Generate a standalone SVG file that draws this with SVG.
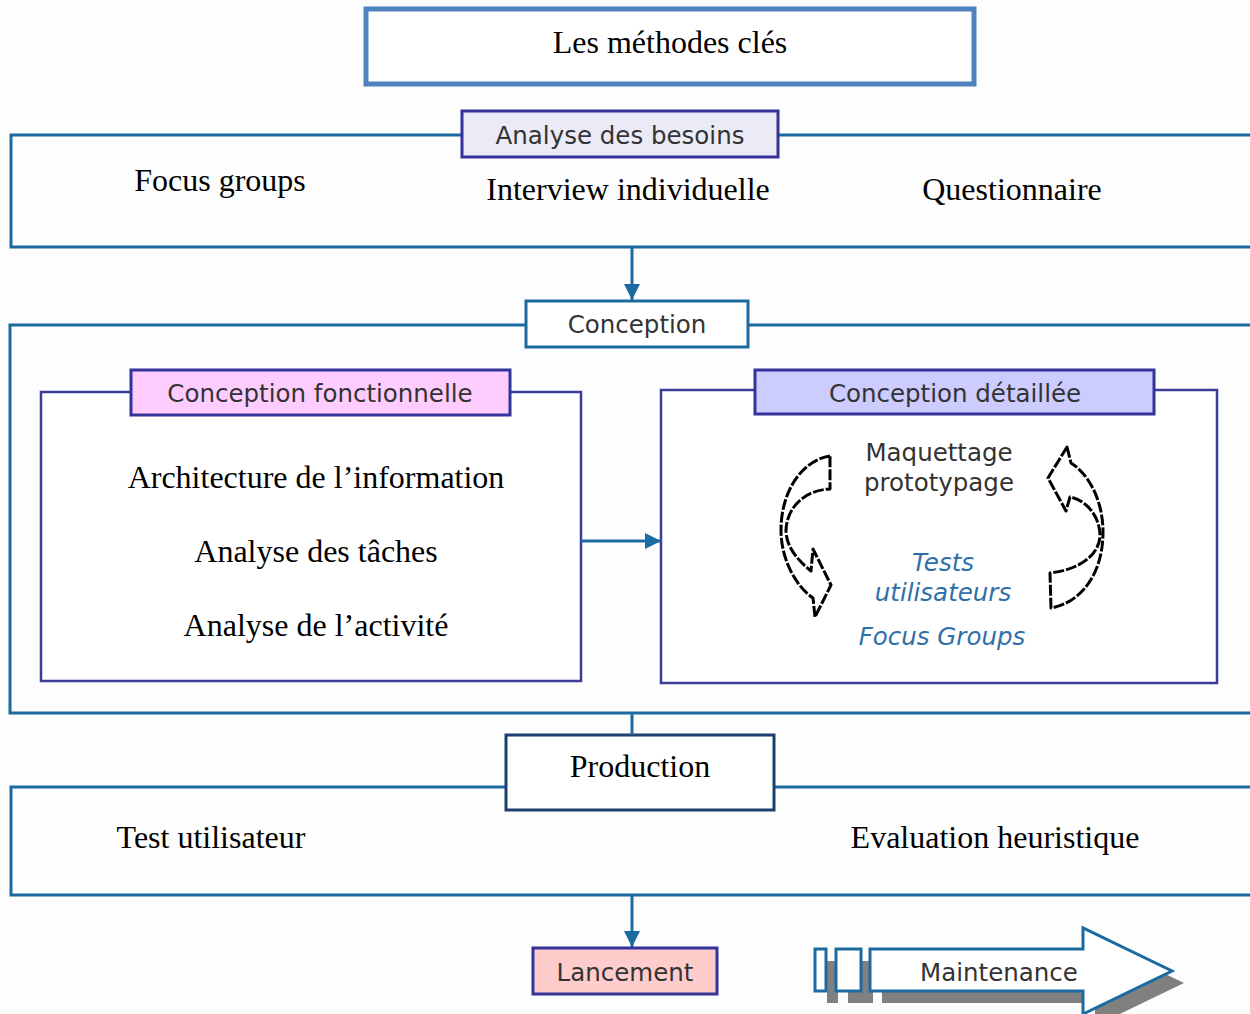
<svg xmlns="http://www.w3.org/2000/svg" width="1250" height="1014" viewBox="0 0 1250 1014">
  <defs>
    <style>
      .frame { fill: none; stroke: #1b6aa0; stroke-width: 3; }
      .inner { fill: #ffffff; stroke: #3b3b9c; stroke-width: 2.5; }
      .tag { stroke: #333399; stroke-width: 3; }
      .serif { font-family: "Liberation Serif", "Times New Roman", serif; font-size: 32px; fill: #000; text-anchor: middle; }
      .sans { font-family: "DejaVu Sans", Verdana, sans-serif; font-size: 24.5px; fill: #333; text-anchor: middle; }
      .blue { font-family: "DejaVu Sans", Verdana, sans-serif; font-size: 24.5px; font-style: italic; fill: #2f6fa8; text-anchor: middle; }
      .link { stroke: #1b6aa0; stroke-width: 3; fill: none; }
      .cycle { fill: #ffffff; stroke: #000; stroke-width: 3; stroke-dasharray: 11 2; stroke-linejoin: round; }
    </style>
    <marker id="head" viewBox="0 0 10 10" refX="10" refY="5" markerWidth="5.5" markerHeight="5.5" markerUnits="strokeWidth" orient="auto">
      <path d="M0,0 L10,5 L0,10 Z" fill="#1b6aa0"/>
    </marker>
  </defs>

  <rect width="1250" height="1014" fill="#fdfdfd"/>

  <!-- title -->
  <g id="title">
    <rect x="366" y="9" width="608" height="75" fill="#ffffff" stroke="#5082bf" stroke-width="5"/>
    <text class="serif" x="670" y="53">Les méthodes clés</text>
  </g>

  <!-- phase frames -->
  <g id="analyse-frame">
    <rect class="frame" x="11" y="135" width="1260" height="112" fill="#ffffff"/>
    <text class="serif" x="220" y="191">Focus groups</text>
    <text class="serif" x="628" y="200">Interview individuelle</text>
    <text class="serif" x="1012" y="200">Questionnaire</text>
  </g>
  <g id="analyse-label">
    <rect class="tag" x="462" y="111" width="316" height="46" fill="#ebebf7"/>
    <text class="sans" x="620" y="144">Analyse des besoins</text>
  </g>

  <g id="conception-frame">
    <rect class="frame" x="10" y="325" width="1260" height="388" fill="#ffffff"/>
  </g>
  <g id="conception-label">
    <rect x="526" y="301" width="222" height="46" fill="#ffffff" stroke="#1b6aa0" stroke-width="3"/>
    <text class="sans" x="637" y="333">Conception</text>
  </g>

  <g id="fonctionnelle">
    <rect class="inner" x="41" y="392" width="540" height="289"/>
    <rect class="tag" x="131" y="370" width="379" height="45" fill="#ffccff"/>
    <text class="sans" x="320" y="402">Conception fonctionnelle</text>
    <text class="serif" x="316" y="488">Architecture de l’information</text>
    <text class="serif" x="316" y="562">Analyse des tâches</text>
    <text class="serif" x="316" y="636">Analyse de l’activité</text>
  </g>

  <g id="detaillee">
    <rect class="inner" x="661" y="390" width="556" height="293"/>
    <rect class="tag" x="755" y="370" width="399" height="44" fill="#ccccff"/>
    <text class="sans" x="955" y="402">Conception détaillée</text>
    <text class="sans" x="939" y="461">Maquettage</text>
    <text class="sans" x="939" y="491">prototypage</text>
    <text class="blue" x="943" y="571">Tests</text>
    <text class="blue" x="943" y="601">utilisateurs</text>
    <text class="blue" x="942" y="645">Focus Groups</text>
    <!-- iteration loop -->
    <path class="cycle" d="M830,456 C803,460 781,490 781,530 C781,562 798,588 813,598 L815,617 L831,585 L813,549 L811,571 C795,558 786,545 786,530 C787,506 806,490 830,489 Z"/>
    <path class="cycle" d="M1067,447 L1071,463 C1090,475 1103,502 1103,532 C1103,575 1080,603 1051,608 L1050,573 C1078,570 1099,556 1100,536 C1100,516 1086,500 1070,497 L1066,511 L1048,478 Z"/>
  </g>

  <g id="production-frame">
    <rect class="frame" x="11" y="787" width="1260" height="108" fill="#ffffff"/>
    <text class="serif" x="211" y="848">Test utilisateur</text>
    <text class="serif" x="995" y="848">Evaluation heuristique</text>
  </g>
  <g id="production-label">
    <rect x="506" y="735" width="268" height="75" fill="#ffffff" stroke="#1c3f6e" stroke-width="3"/>
    <text class="serif" x="640" y="777">Production</text>
  </g>

  <g id="lancement">
    <rect class="tag" x="533" y="948" width="184" height="46" fill="#ffcccc"/>
    <text class="sans" x="625" y="981">Lancement</text>
  </g>

  <g id="maintenance">
    <g fill="#808080">
      <rect x="827" y="961" width="11" height="42"/>
      <rect x="848" y="961" width="25" height="42"/>
      <polygon points="882,961 1095,961 1095,940 1184,983 1095,1026 1095,1003 882,1003"/>
    </g>
    <g fill="#ffffff" stroke="#1b6aa0" stroke-width="3">
      <rect x="815" y="949" width="11" height="42"/>
      <rect x="836" y="949" width="25" height="42"/>
      <polygon points="870,949 1083,949 1083,928 1172,971 1083,1014 1083,991 870,991"/>
    </g>
    <text class="sans" x="999" y="981">Maintenance</text>
  </g>

  <!-- connectors -->
  <g id="connectors">
    <line class="link" x1="632" y1="247" x2="632" y2="300" marker-end="url(#head)"/>
    <line class="link" x1="581" y1="541" x2="661" y2="541" marker-end="url(#head)"/>
    <line class="link" x1="632" y1="713" x2="632" y2="735"/>
    <line class="link" x1="632" y1="895" x2="632" y2="947" marker-end="url(#head)"/>
  </g>
</svg>
